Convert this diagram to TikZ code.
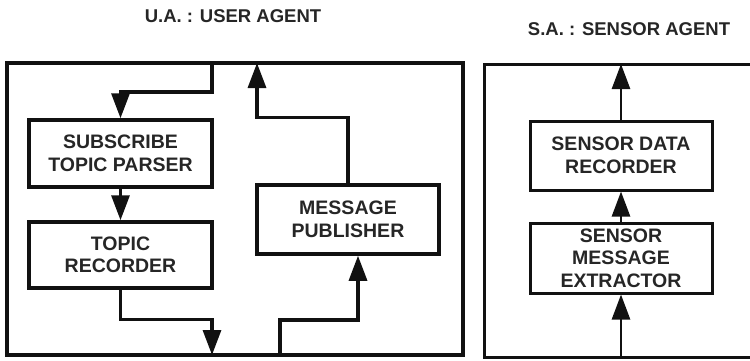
\documentclass[tikz,border=0pt]{standalone}
\usepackage{fontspec}
\setmainfont{Liberation Sans}
\usetikzlibrary{arrows.meta}
\definecolor{ink}{HTML}{111111}
\definecolor{txt}{HTML}{262626}
\tikzset{
  blk/.style={draw=ink, line width=3.5pt, rectangle, inner sep=0pt, align=center,
    text=txt, font=\fontsize{19.5}{22.5}\selectfont\bfseries},
  frame/.style={draw=ink, line width=3.5pt},
  arr/.style={draw=ink, line width=3.2pt, -{Triangle[length=25pt,width=18pt]}},
  ttl/.style={text=txt, font=\fontsize{18.5}{22}\selectfont\bfseries, inner sep=0pt}
}
\begin{document}
\begin{tikzpicture}[x=1pt,y=-1pt]
\useasboundingbox (0,0) rectangle (750,360);
% titles
\node[ttl] (tua) at (233,16) {U.A. : USER AGENT};
\node[ttl] (tsa) at (629,29) {S.A. : SENSOR AGENT};
% frames
\draw[frame] (7,63) rectangle (463,355);
\draw[draw=ink, line width=3pt] (752,64) -- (484,64) -- (484,357) -- (752,357);
% junction coordinates
\coordinate (uain) at (212,63);
\coordinate (uaout) at (212,355);
\coordinate (uabot) at (280,355);
\coordinate (uatop) at (257,63);
\coordinate (satop) at (621,64);
\coordinate (sabot) at (621,357);
% boxes
\node[blk, minimum width=183pt, minimum height=67pt] (sub) at (120.5,153.5) {SUBSCRIBE\\TOPIC PARSER};
\node[blk, minimum width=183pt, minimum height=66pt] (rec) at (120.5,255) {TOPIC\\RECORDER};
\node[blk, minimum width=182pt, minimum height=69pt] (pub) at (348,219.5) {MESSAGE\\PUBLISHER};
\node[blk, line width=3pt, minimum width=182pt, minimum height=69pt] (sdr) at (621,155.5) {SENSOR DATA\\RECORDER};
\node[blk, line width=3pt, minimum width=182pt, minimum height=70pt] (sme) at (621,258) {SENSOR\\MESSAGE\\EXTRACTOR};
% connectors
\draw[arr] (uain) -- ++(0,29) -| (sub.north);
\draw[arr] (sub.south) -- (rec.north);
\draw[arr] (rec.south) -- ++(0,30) -| (uaout);
\draw[arr] (uabot) -- ++(0,-35) -| ([xshift=10pt]pub.south);
\draw[arr] (pub.north) -- ++(0,-66) -| (uatop);
\draw[arr, line width=2.6pt] (sdr.north) -- (satop);
\draw[arr, line width=2.6pt] (sme.north) -- (sdr.south);
\draw[arr, line width=2.6pt] (sabot) -- (sme.south);
\end{tikzpicture}
\end{document}
